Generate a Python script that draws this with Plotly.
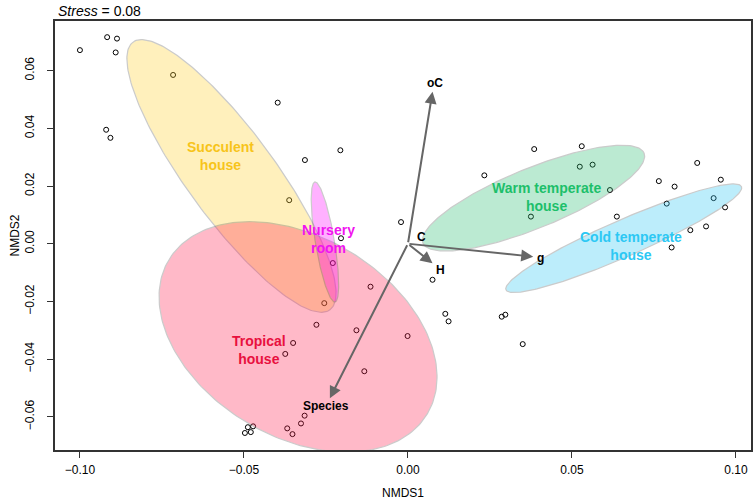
import numpy as np
import plotly.graph_objects as go

# ---- site scores (NMDS1, NMDS2) ----
site_x = [-0.1000, -0.0917, -0.0887, -0.0891, -0.0716, -0.0920, -0.0907, -0.0397, -0.0206, -0.0314,
          -0.0362, -0.0021, -0.0204, -0.0229, 0.0075, -0.0114, 0.0385, 0.0530, 0.0524, 0.0563,
          0.0233, 0.0616, 0.0375, 0.0882, 0.0765, 0.0813, 0.0954, 0.0932, 0.0967, 0.0789,
          0.0637, 0.0861, 0.0909, 0.0804, 0.0114, 0.0124, 0.0286, 0.0297, -0.0001, 0.0350,
          -0.0255, -0.0279, -0.0157, -0.0350, -0.0374, -0.0133, -0.0315, -0.0326, -0.0368, -0.0352,
          -0.0488, -0.0472, -0.0497, -0.0479]
site_y = [0.0671, 0.0716, 0.0711, 0.0663, 0.0585, 0.0395, 0.0367, 0.0489, 0.0324, 0.0290,
          0.0151, 0.0075, 0.0019, -0.0067, -0.0125, -0.0149, 0.0328, 0.0338, 0.0267, 0.0274,
          0.0237, 0.0186, 0.0094, 0.0280, 0.0217, 0.0198, 0.0222, 0.0158, 0.0126, 0.0139,
          0.0094, 0.0047, 0.0060, -0.0013, -0.0243, -0.0269, -0.0253, -0.0246, -0.0320, -0.0348,
          -0.0206, -0.0281, -0.0300, -0.0344, -0.0382, -0.0442, -0.0596, -0.0623, -0.0640, -0.0660,
          -0.0636, -0.0633, -0.0656, -0.0653]

# ---- group ellipses: centre, major semi-axis vector, minor semi-axis vector (data units) ----
groups = ["Succulent<br>house", "Tropical<br>house", "Nursery<br>room",
          "Warm temperate<br>house", "Cold temperate<br>house"]
group_colors = ["#FFD024", "#FF1A4B", "#FF00FF", "#22BC6C", "#26C6F5"]
label_colors = ["#F7C41A", "#E8103E", "#F014F0", "#1DBF6A", "#2CC8F4"]
ell_cx = [-0.0538, -0.0335, -0.0253, 0.0383, 0.0658]
ell_cy = [0.0235, -0.0323, 0.0006, 0.0158, 0.0019]
ell_ax = [0.0300, 0.0394, 0.00305, 0.0337, 0.0359]
ell_ay = [-0.0464, -0.0267, -0.0208, 0.0156, 0.0179]
ell_bx = [0.0108, -0.0156, 0.00286, 0.00345, 0.00224]
ell_by = [0.0090, -0.0297, 0.00054, -0.00964, -0.00582]
label_x = [-0.0570, -0.0454, -0.0243, 0.0423, 0.0679]
label_y = [0.0304, -0.0367, 0.0017, 0.0161, -0.0009]

# ---- fitted vectors ----
vec_names = ["oC", "C", "H", "g", "Species"]
vec_x = [0.0075, 0.0012, 0.0075, 0.0382, -0.0238]
vec_y = [0.0527, 0.0002, -0.0068, -0.0045, -0.0536]
vec_colors = ["#666666", "#A03A3A", "#666666", "#666666", "#666666"]
vec_lab_dx = [2, 10, 8, 7, -4]
vec_lab_dy = [9, 6, -7, -1, -8]

x_ticks = [-0.10, -0.05, 0.00, 0.05, 0.10]
y_ticks = [-0.06, -0.04, -0.02, 0.00, 0.02, 0.04, 0.06]

fig = go.Figure()

fig.add_trace(go.Scatter(
    x=site_x, y=site_y, mode="markers",
    marker=dict(symbol="circle-open", size=5, color="black", line=dict(width=1, color="black")),
    showlegend=False, hoverinfo="skip"))

t = np.linspace(0, 2 * np.pi, 241)
for i in range(len(groups)):
    ex = ell_cx[i] + np.cos(t) * ell_ax[i] + np.sin(t) * ell_bx[i]
    ey = ell_cy[i] + np.cos(t) * ell_ay[i] + np.sin(t) * ell_by[i]
    fig.add_trace(go.Scatter(
        x=ex, y=ey, mode="lines", fill="toself",
        fillcolor=group_colors[i], opacity=0.3,
        line=dict(color="#555555", width=1.2),
        showlegend=False, hoverinfo="skip"))

font_main = "Liberation Sans, Arial, sans-serif"

for i in range(len(groups)):
    fig.add_annotation(x=label_x[i], y=label_y[i], text="<b>%s</b>" % groups[i],
                       showarrow=False, font=dict(family=font_main, size=14, color=label_colors[i]),
                       xanchor="center", yanchor="middle")

for i in range(len(vec_names)):
    fig.add_annotation(x=vec_x[i], y=vec_y[i], ax=0, ay=0, xref="x", yref="y",
                       axref="x", ayref="y", text="", showarrow=True,
                       arrowhead=2, arrowsize=1.2, arrowwidth=2, arrowcolor=vec_colors[i])
    fig.add_annotation(x=vec_x[i], y=vec_y[i], text="<b>%s</b>" % vec_names[i], showarrow=False,
                       xshift=vec_lab_dx[i], yshift=vec_lab_dy[i],
                       font=dict(family=font_main, size=12, color="black"),
                       xanchor="center", yanchor="middle")

fig.add_annotation(x=0, y=1, xref="paper", yref="paper", xanchor="left", yanchor="bottom",
                   yshift=0, xshift=1, showarrow=False, text="<i>Stress</i> = 0.08",
                   font=dict(family=font_main, size=14, color="black"))

# axis titles
fig.add_annotation(x=0.5, y=0, xref="paper", yref="paper", xanchor="center", yanchor="middle",
                   yshift=-43, showarrow=False, text="NMDS1",
                   font=dict(family=font_main, size=12, color="black"))
fig.add_annotation(x=0, y=0.5, xref="paper", yref="paper", xanchor="center", yanchor="middle",
                   xshift=-41, showarrow=False, text="NMDS2", textangle=-90,
                   font=dict(family=font_main, size=12, color="black"))

axis_common = dict(showgrid=False, zeroline=False, showline=True, linecolor="#333333",
                   linewidth=1.5, mirror=True, ticks="outside", ticklen=6, tickwidth=1,
                   tickcolor="#333333", automargin=False,
                   tickfont=dict(family=font_main, size=12, color="#000000"))

fig.update_layout(
    width=753, height=502,
    margin=dict(l=55, r=2, t=21, b=52),
    paper_bgcolor="white", plot_bgcolor="white",
    showlegend=False,
    xaxis=dict(range=[-0.1076, 0.1046], tickvals=x_ticks, tickformat=".2f",
               ticklabelstandoff=2, **axis_common),
    yaxis=dict(range=[-0.0715, 0.0772], tickvals=y_ticks, tickformat=".2f", tickangle=-90,
               ticklabelstandoff=8, **axis_common),
)

fig.write_html("out.html", config={"displayModeBar": False},
               post_script="document.body.style.margin='0';document.body.style.padding='0';")
